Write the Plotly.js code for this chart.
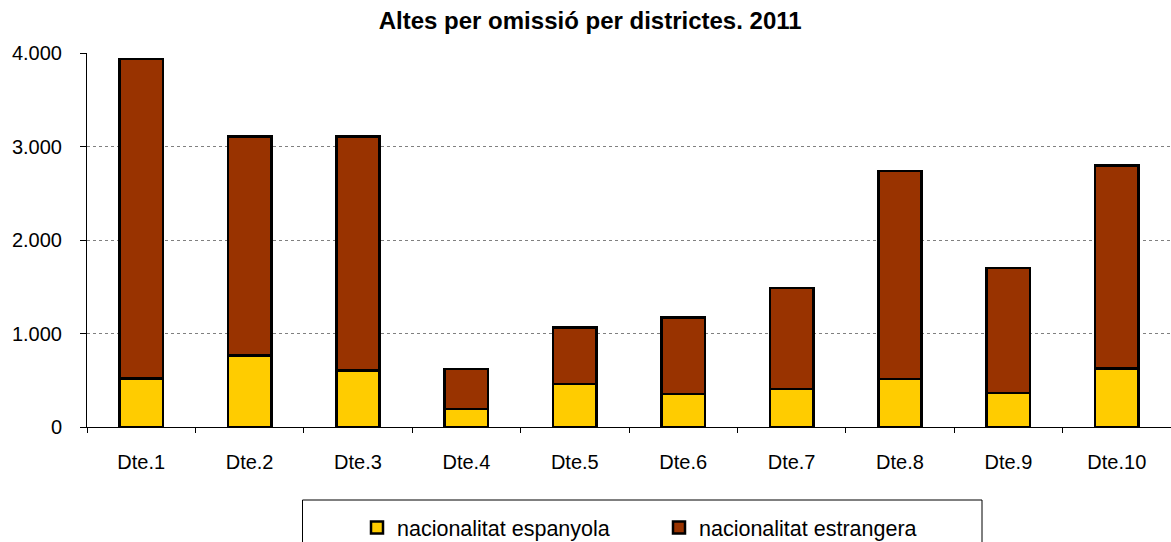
<!DOCTYPE html>
<html>
<head>
<meta charset="utf-8">
<script src="https://cdn.plot.ly/plotly-3.0.1.min.js"></script>
<style>html,body{margin:0;padding:0;background:#fff;}#chart{width:1171px;height:542px;}</style>
</head>
<body>
<div id="chart"></div>
<script>
const districts = ["Dte.1","Dte.2","Dte.3","Dte.4","Dte.5","Dte.6","Dte.7","Dte.8","Dte.9","Dte.10"];
const spanish = [520, 763, 602, 193, 460, 353, 407, 514, 364, 627];
const foreign = [3416, 2345, 2506, 427, 605, 819, 1081, 2223, 1338, 2171];
const yTicks = [0, 1000, 2000, 3000, 4000];
const seriesNames = ["nacionalitat espanyola", "nacionalitat estrangera"];
const chartTitle = "Altes per omissió per districtes. 2011";

const font = "Liberation Sans, Arial, sans-serif";
const plotTop = 53, plotBottom = 427, plotLeft = 87, plotW = 1084, plotH = plotBottom - plotTop;

const traces = [
  {type:"bar", name:seriesNames[0], x:districts, y:spanish, width:0.4,
   marker:{color:"#FFCC00", line:{color:"#000000", width:2.5}}, hoverinfo:"x+y"},
  {type:"bar", name:seriesNames[1], x:districts, y:foreign, width:0.4,
   marker:{color:"#993300", line:{color:"#000000", width:2.5}}, hoverinfo:"x+y"}
];

const layout = {
  width:1171, height:542,
  barmode:"stack",
  separators:",.",
  paper_bgcolor:"#ffffff", plot_bgcolor:"#ffffff",
  margin:{l:plotLeft, r:0, t:plotTop, b:542-plotBottom, pad:0, autoexpand:false},
  font:{family:font, size:20, color:"#000000"},
  title:{text:"<b>"+chartTitle+"</b>", font:{family:font, size:24, color:"#000"},
         xref:"container", x:0.504, xanchor:"center", yref:"container", y:0.962, yanchor:"middle"},
  xaxis:{type:"category", showgrid:false, showline:true, linecolor:"#000", linewidth:1,
         ticks:"outside", tickson:"boundaries", ticklen:5, tickcolor:"#000", tickwidth:1,
         ticklabelstandoff:17, tickfont:{family:font, size:20, color:"#000"}, zeroline:false},
  yaxis:{range:[0,4000], tickvals:yTicks, separatethousands:true, tickformat:",d",
         showgrid:true, gridcolor:"#808080", griddash:"dot", gridwidth:1,
         showline:true, linecolor:"#000", linewidth:1, ticks:"outside", ticklen:6, tickcolor:"#000",
         ticklabelstandoff:14, tickfont:{family:font, size:20, color:"#000"}, zeroline:false},
  showlegend:true,
  legend:{orientation:"h", x:(357-plotLeft)/plotW, xanchor:"left", y:(plotBottom-507)/plotH, yanchor:"top",
          font:{family:font, size:21.5, color:"#000"}, bgcolor:"rgba(0,0,0,0)", borderwidth:0,
          traceorder:"normal", entrywidth:257, entrywidthmode:"pixels"},
  shapes:[{type:"rect", xref:"paper", yref:"paper", x0:(302.5-plotLeft)/plotW, x1:(982-plotLeft)/plotW,
           y0:(plotBottom-500)/plotH, y1:(plotBottom-560)/plotH, line:{color:"#000", width:1},
           fillcolor:"rgba(0,0,0,0)", layer:"below"}]
};

Plotly.newPlot("chart", traces, layout, {displayModeBar:false, staticPlot:true});
</script>
</body>
</html>
